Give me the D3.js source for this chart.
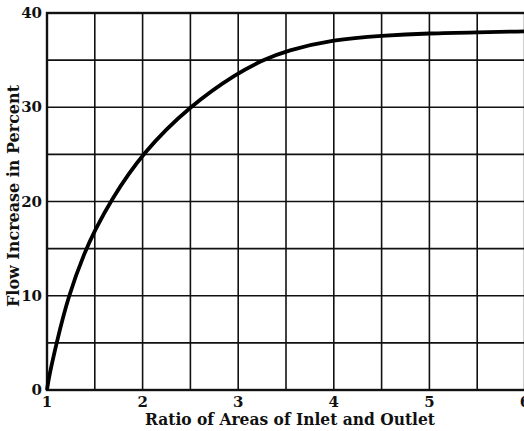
<!DOCTYPE html>
<html>
<head>
<meta charset="utf-8">
<script src="https://cdn.jsdelivr.net/npm/d3@7"></script>
<style>
  html, body { margin: 0; padding: 0; background: #fff; }
  svg { display: block; }
  text { font-family: "DejaVu Serif", "Liberation Serif", serif; font-weight: bold; fill: #111; }
</style>
</head>
<body>
<svg id="chart" width="524" height="431"></svg>
<script>
// Area ratio (inlet / outlet) and the resulting flow increase, percent
const ratio = [1, 1.02, 1.1, 1.22, 1.4, 1.5, 1.66, 2, 2.5, 3, 3.26, 3.5, 4, 4.5, 5, 5.5, 6];
const flowIncrease = [0, 1.4, 5, 9.9, 14.8, 16.9, 20, 25.2, 30.2, 33.7, 35, 36, 37.2, 37.6, 37.85, 37.95, 38.05];

const xTickLabels = [1, 2, 3, 4, 5, 6];
const yTickLabels = [0, 10, 20, 30, 40];
const xGrid = d3.range(1, 6.01, 0.5);
const yGrid = d3.range(0, 40.01, 5);

const xTitle = "Ratio of Areas of Inlet and Outlet";
const yTitle = "Flow Increase in Percent";

const svg = d3.select("#chart");
const x = d3.scaleLinear().domain([1, 6]).range([47, 525]);
const y = d3.scaleLinear().domain([0, 40]).range([390, 13]);

// grid
const grid = svg.append("g").attr("stroke", "#111").attr("stroke-width", 1.6);
grid.selectAll("line.v").data(xGrid).join("line")
  .attr("class", "v")
  .attr("x1", d => x(d)).attr("x2", d => x(d))
  .attr("y1", y(40)).attr("y2", y(0));
grid.selectAll("line.h").data(yGrid).join("line")
  .attr("class", "h")
  .attr("x1", x(1)).attr("x2", x(6))
  .attr("y1", d => y(d)).attr("y2", d => y(d));

// frame
svg.append("rect")
  .attr("x", x(1)).attr("y", y(40))
  .attr("width", x(6) - x(1)).attr("height", y(0) - y(40))
  .attr("fill", "none").attr("stroke", "#111").attr("stroke-width", 2.4);

// curve
const line = d3.line()
  .x((d, i) => x(ratio[i]))
  .y(d => y(d))
  .curve(d3.curveBasis);
svg.append("path")
  .datum(flowIncrease)
  .attr("d", line)
  .attr("fill", "none")
  .attr("stroke", "#000")
  .attr("stroke-width", 3.8)
  .attr("stroke-linejoin", "round");

// tick labels
svg.selectAll("text.xt").data(xTickLabels).join("text")
  .attr("class", "xt")
  .attr("x", d => x(d)).attr("y", 407)
  .attr("text-anchor", "middle")
  .attr("font-size", 15)
  .text(d => d);
svg.selectAll("text.yt").data(yTickLabels).join("text")
  .attr("class", "yt")
  .attr("x", 42).attr("y", d => y(d) + 5)
  .attr("text-anchor", "end")
  .attr("font-size", 15)
  .text(d => d);

// axis titles
svg.append("text")
  .attr("x", 290).attr("y", 425)
  .attr("text-anchor", "middle")
  .attr("font-size", 16)
  .attr("textLength", 290)
  .attr("lengthAdjust", "spacingAndGlyphs")
  .text(xTitle);
svg.append("text")
  .attr("transform", "translate(19,196) rotate(-90)")
  .attr("text-anchor", "middle")
  .attr("font-size", 16)
  .attr("textLength", 222)
  .attr("lengthAdjust", "spacingAndGlyphs")
  .text(yTitle);
</script>
</body>
</html>
